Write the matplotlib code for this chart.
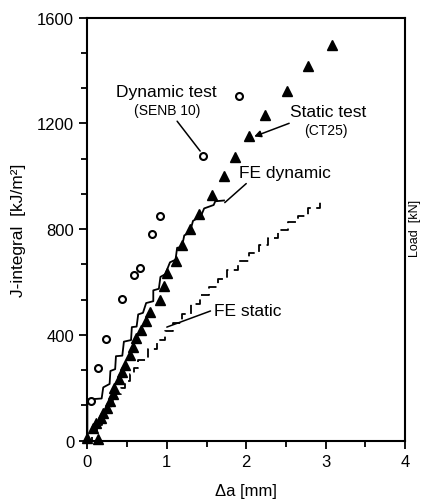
import matplotlib
matplotlib.use('Agg')
import matplotlib.pyplot as plt
from matplotlib.ticker import MultipleLocator

plt.rcParams['font.family'] = ['Liberation Sans', 'DejaVu Sans']

# static test (CT25), filled triangles
static_da = [0.0, 0.14, 0.07, 0.11, 0.17, 0.195, 0.25, 0.28, 0.32, 0.34, 0.40, 0.44,
             0.48, 0.54, 0.57, 0.61, 0.68, 0.74, 0.79, 0.92, 0.96, 1.00, 1.11, 1.19,
             1.29, 1.40, 1.57, 1.72, 1.86, 2.04, 2.24, 2.51, 2.78, 3.08]
static_J = [10, 5, 48, 66, 84, 103, 124, 150, 176, 198, 232, 261,
            286, 323, 353, 386, 419, 452, 485, 532, 584, 633, 680, 739,
            802, 857, 930, 999, 1072, 1152, 1232, 1322, 1416, 1497]

# dynamic test (SENB 10), open circles
dyn_da = [0.05, 0.14, 0.24, 0.43, 0.59, 0.66, 0.82, 0.91, 1.46, 1.91]
dyn_J = [150, 273, 385, 536, 628, 654, 783, 849, 1078, 1305]

# FE dynamic, solid staircase (corner points)
fe_dyn_da = [0, 0, 0.18, 0.20, 0.28, 0.29, 0.35, 0.36, 0.44, 0.46, 0.55, 0.56, 0.62,
             0.64, 0.70, 0.74, 0.83, 0.83, 0.90, 0.92, 0.98, 1.04, 1.11, 1.13, 1.19,
             1.22, 1.29, 1.33, 1.43, 1.47, 1.59, 1.61, 1.72]
fe_dyn_J = [0, 155, 159, 201, 214, 263, 270, 319, 321, 374, 380, 429, 431,
            477, 483, 520, 527, 568, 574, 619, 629, 674, 684, 729, 732,
            776, 787, 831, 849, 878, 891, 905, 908]

# FE static, broken staircase (riser positions)
fe_sta_da = [0.0, 0.06, 0.12, 0.18, 0.24, 0.30, 0.36, 0.42, 0.48, 0.54, 0.59, 0.64,
             0.76, 0.88, 0.98, 1.08, 1.19, 1.30, 1.42, 1.53, 1.64, 1.76, 1.90, 2.04,
             2.16, 2.28, 2.40, 2.53, 2.65, 2.78, 2.93]
fe_sta_J = [0, 30, 60, 90, 120, 150, 175, 200, 225, 250, 275, 305,
            345, 380, 415, 445, 480, 515, 550, 580, 610, 645, 680, 710,
            740, 765, 795, 825, 850, 880, 910]

x_ticks = [0, 1, 2, 3, 4]
y_ticks = [0, 400, 800, 1200, 1600]

fig = plt.figure(figsize=(4.22, 5.02), dpi=100)
ax = fig.add_axes([0.207, 0.1205, 0.753, 0.8425])

ax.plot(fe_dyn_da, fe_dyn_J, color='black', lw=1.3)
ax.step(fe_sta_da, fe_sta_J, where='post', color='black', lw=1.3,
        linestyle=(0, (5, 3)))
ax.plot(static_da, static_J, linestyle='none', marker='^', ms=6.5,
        color='black', clip_on=False, zorder=3)
ax.plot(dyn_da, dyn_J, linestyle='none', marker='o', ms=5, mfc='white',
        mec='black', mew=1.5, clip_on=False, zorder=3)

# labels and pointers
line = dict(arrowstyle='-', lw=1.1, color='black', shrinkA=0, shrinkB=0)
ax.text(1.0, 1320, 'Dynamic test', fontsize=12.5, ha='center', va='center')
ax.text(1.0, 1250, '(SENB 10)', fontsize=10, ha='center', va='center')
ax.annotate('', xy=(1.42, 1095), xytext=(1.13, 1208), arrowprops=line)

ax.text(3.03, 1245, 'Static test', fontsize=12.5, ha='center', va='center')
ax.text(3.0, 1175, '(CT25)', fontsize=10, ha='center', va='center')
ax.annotate('', xy=(2.10, 1150), xytext=(2.54, 1200),
            arrowprops=dict(arrowstyle='-|>', lw=1.1, color='black',
                            mutation_scale=10, shrinkA=0, shrinkB=0))

ax.text(2.49, 1013, 'FE dynamic', fontsize=12.5, ha='center', va='center')
ax.annotate('', xy=(1.73, 900), xytext=(2.0, 972), arrowprops=line)

ax.text(2.02, 492, 'FE static', fontsize=12.5, ha='center', va='center')
ax.annotate('', xy=(1.0, 429), xytext=(1.55, 490), arrowprops=line)

ax.set_xlim(0, 4)
ax.set_ylim(0, 1600)
ax.set_xticks(x_ticks)
ax.set_yticks(y_ticks)
ax.xaxis.set_minor_locator(MultipleLocator(0.5))
ax.yaxis.set_minor_locator(MultipleLocator(400 / 3))
ax.tick_params(which='both', direction='out', width=1.3, labelsize=12,
               top=False, right=False)
ax.tick_params(which='major', length=6)
ax.tick_params(which='minor', length=4)
for s in ax.spines.values():
    s.set_linewidth(1.5)

ax.set_xlabel('Δa [mm]', fontsize=12, labelpad=10)
ax.set_ylabel('J-integral  [kJ/m²]', fontsize=12.5, labelpad=8)

# edge of the next figure on the page
fig.text(0.998, 0.545, 'Load  [kN]', rotation=90, ha='right', va='center',
         fontsize=9)

fig.savefig('out.png', dpi=100)
